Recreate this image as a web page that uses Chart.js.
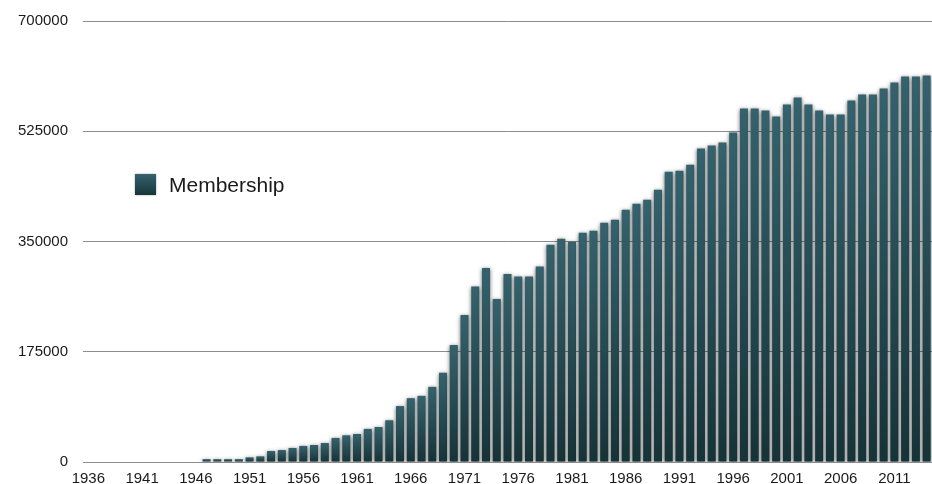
<!DOCTYPE html>
<html>
<head>
<meta charset="utf-8">
<title>Membership</title>
<script src="https://cdn.jsdelivr.net/npm/chart.js@4.4.1/dist/chart.umd.min.js"></script>
<style>
  html, body { margin: 0; padding: 0; background: #fff; }
  #wrap { width: 932px; height: 484px; position: relative; }
</style>
</head>
<body>
<div id="wrap"><canvas id="chart"></canvas></div>
<script>
// categories: one per year
const firstYear = 1936;
const lastYear = 2014;
const years = Array.from({ length: lastYear - firstYear + 1 }, (_, i) => String(firstYear + i));

// membership per year (null = no bar)
const membership = [
  null, null, null, null, null, null, null, null, null, null, null, // 1936-1946
  4500, 4500, 4500, 4500,                                             // 1947-1950
  7400, 9000, 17500, 19000, 22300, 25500, 27000, 30200, 38200, 42400, // 1951-1960
  44500, 52500, 55500, 66300, 88800, 101300, 105000, 119300, 141600, 185600, // 1961-1970
  233300, 278400, 308100, 258800, 298600, 294300, 294300, 310200, 344700, 354300, // 1971-1980
  349500, 363800, 367000, 379700, 384500, 400400, 410000, 416300, 432200, 460900, // 1981-1990
  462500, 472000, 497500, 502200, 507000, 522900, 561100, 561100, 557900, 548400, // 1991-2000
  567500, 578600, 567500, 557900, 551500, 551500, 573800, 583400, 583400, 592900, // 2001-2010
  602500, 612000, 612000, 613600                                      // 2011-2014
];

const yTicks = [0, 175000, 350000, 525000, 700000];
const seriesLabel = 'Membership';

Chart.defaults.font.family = '"Liberation Sans", Arial, Helvetica, sans-serif';
Chart.defaults.color = '#1a1a1a';

function barGradient(ctx, top, bottom) {
  const g = ctx.createLinearGradient(0, top, 0, bottom);
  g.addColorStop(0, '#35626d');
  g.addColorStop(1, '#163337');
  return g;
}

// soft shadow behind the bars
const barShadow = {
  id: 'barShadow',
  beforeDatasetsDraw(chart) {
    const ctx = chart.ctx;
    ctx.save();
    ctx.shadowColor = 'rgba(0,0,0,0.6)';
    ctx.shadowBlur = 4;
    ctx.shadowOffsetY = 1;
  },
  afterDatasetsDraw(chart) {
    chart.ctx.restore();
  }
};

// legend sitting inside the plot area
const innerLegend = {
  id: 'innerLegend',
  afterDraw(chart) {
    const ctx = chart.ctx;
    const ds = chart.data.datasets[0];
    ctx.save();
    ctx.shadowColor = 'rgba(0,0,0,0.35)';
    ctx.shadowBlur = 2;
    ctx.fillStyle = barGradient(ctx, 174, 196);
    ctx.fillRect(135, 174, 21, 21);
    ctx.restore();
    ctx.save();
    ctx.fillStyle = '#1a1a1a';
    ctx.font = '21px "Liberation Sans", Arial, Helvetica, sans-serif';
    ctx.textBaseline = 'middle';
    ctx.fillText(ds.label, 169, 186);
    ctx.restore();
  }
};

const ctx = document.getElementById('chart').getContext('2d');

new Chart(ctx, {
  type: 'bar',
  data: {
    labels: years,
    datasets: [{
      label: seriesLabel,
      data: membership,
      barPercentage: 0.75,
      categoryPercentage: 1.0,
      borderWidth: 0,
      backgroundColor: (c) => {
        const chart = c.chart;
        const y = chart.scales.y;
        if (!y || !chart.chartArea || c.raw == null) return '#244950';
        return barGradient(chart.ctx, y.getPixelForValue(c.raw), y.getPixelForValue(0));
      }
    }]
  },
  options: {
    responsive: true,
    maintainAspectRatio: false,
    animation: false,
    layout: { padding: { top: 21, right: 0, bottom: 0, left: 0 } },
    plugins: {
      legend: { display: false },
      tooltip: { enabled: false }
    },
    scales: {
      x: {
        // invisible tick marks give the label gap without extra side padding
        grid: { display: false, drawTicks: true, tickLength: 9, tickColor: 'rgba(0,0,0,0)' },
        border: { display: false },
        ticks: {
          autoSkip: false,
          maxRotation: 0,
          padding: 0,
          font: { size: 15, lineHeight: 1 },
          color: '#1a1a1a',
          callback: (v, i) => ((Number(years[i]) - firstYear) % 5 === 0 ? years[i] : '')
        },
        afterFit: (s) => { s.height = 22; }
      },
      y: {
        min: yTicks[0],
        max: yTicks[yTicks.length - 1],
        afterBuildTicks: (s) => { s.ticks = yTicks.map(v => ({ value: v })); },
        grid: { color: '#8c8c8c', lineWidth: 1, drawTicks: true, tickLength: 15, tickColor: 'rgba(0,0,0,0)' },
        border: { display: false },
        ticks: {
          padding: 0,
          font: { size: 15 },
          color: '#1a1a1a',
          callback: (v) => String(v)
        },
        afterFit: (s) => { s.width = 83; }
      }
    }
  },
  plugins: [barShadow, innerLegend]
});
</script>
</body>
</html>
